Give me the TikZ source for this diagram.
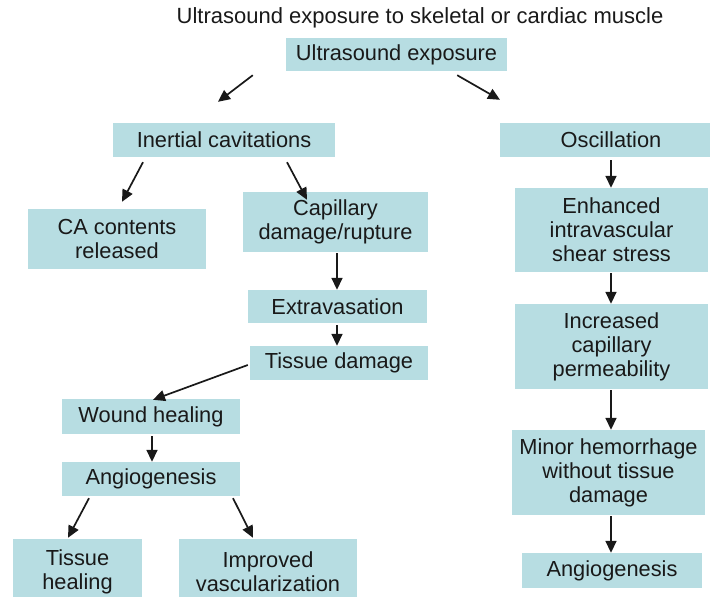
\documentclass[tikz,border=0pt]{standalone}
\usepackage{fontspec}
\setmainfont{Liberation Sans}
\usetikzlibrary{arrows.meta}
\definecolor{boxfill}{RGB}{183,221,226}
\definecolor{ink}{RGB}{25,25,25}
\tikzset{
  box/.style={rectangle, fill=boxfill, draw=none, align=center, inner sep=0pt,
    text=ink, font=\fontsize{21.8}{24}\selectfont},
  arr/.style={draw=ink, line width=1.7pt, -{Triangle[length=12pt,width=11pt]}}
}
\begin{document}
\begin{tikzpicture}[x=1pt,y=-1pt]
\useasboundingbox (0,0) rectangle (710,597);
\fill[white] (0,0) rectangle (710,597);
\clip (0,0) rectangle (710,597);
\node[text=ink, font=\fontsize{22}{24}\selectfont, inner sep=0pt] (title) at (420,18) {Ultrasound exposure to skeletal or cardiac muscle};
\node[box, minimum width=221pt, minimum height=33pt] (ue) at (396.5,54.5) {Ultrasound exposure};
\node[box, minimum width=222pt, minimum height=34pt] (ic) at (224,140) {Inertial cavitations};
\node[box, minimum width=222pt, minimum height=34pt] (osc) at (611,140) {Oscillation};
\node[box, minimum width=193pt, minimum height=84pt] (enh) at (611.5,230) {Enhanced\\intravascular\\shear stress};
\node[box, minimum width=193pt, minimum height=85pt] (inc) at (611.5,346.5) {Increased\\capillary\\permeability};
\node[box, minimum width=193pt, minimum height=85pt] (minor) at (608.5,472.5) {Minor hemorrhage\\without tissue\\damage};
\node[box, minimum width=180pt, minimum height=35pt] (ang2) at (612,570.5) {Angiogenesis};
\node[box, minimum width=178pt, minimum height=60pt] (ca) at (117,239) {CA contents\\released};
\node[box, minimum width=185pt, minimum height=60pt] (cap) at (335.5,222) {Capillary\\damage/rupture};
\node[box, minimum width=179pt, minimum height=33pt] (ext) at (337.5,306.5) {Extravasation};
\node[box, minimum width=178pt, minimum height=34pt] (td) at (339,363) {Tissue damage};
\node[box, minimum width=178pt, minimum height=35pt] (wh) at (151,416.5) {Wound healing};
\node[box, minimum width=178pt, minimum height=34pt] (ang1) at (151,479) {Angiogenesis};
\node[box, minimum width=129pt, minimum height=66pt] (th) at (77.5,572) {Tissue\\healing};
\node[box, minimum width=178pt, minimum height=66pt] (iv) at (268,572) {Improved\\vascularization};
\draw[arr] ([shift={(-33,4)}]ue.south west) -- ([shift={(-6,-21)}]ic.north);
\draw[arr] ([shift={(-50,4)}]ue.south east) -- ([shift={(-111,-23)}]osc.north);
\draw[arr] ([shift={(-81,5)}]ic.south) -- ([shift={(5,-7)}]ca.north);
\draw[arr] ([shift={(63,5)}]ic.south) -- ([shift={(-28.5,8)}]cap.north);
\draw[arr] ([shift={(1.5,1)}]cap.south) -- ([shift={(-0.5,0)}]ext.north);
\draw[arr] ([shift={(-0.5,2)}]ext.south) -- ([shift={(-2,0)}]td.north);
\draw[arr] ([shift={(-2,2)}]td.west) -- ([shift={(2,1)}]wh.north);
\draw[arr] ([shift={(1,2)}]wh.south) -- ([shift={(1,0)}]ang1.north);
\draw[arr] ([shift={(-62,2)}]ang1.south) -- ([shift={(-9.5,-1)}]th.north);
\draw[arr] ([shift={(82,2)}]ang1.south) -- ([shift={(-15,-1)}]iv.north);
\draw[arr] ([shift={(0,3)}]osc.south) -- ([shift={(-0.5,0)}]enh.north);
\draw[arr] ([shift={(-0.5,1)}]enh.south) -- ([shift={(-0.5,0)}]inc.north);
\draw[arr] ([shift={(-0.5,1)}]inc.south) -- ([shift={(2.5,0)}]minor.north);
\draw[arr] ([shift={(2.5,1)}]minor.south) -- ([shift={(-1,0)}]ang2.north);
\end{tikzpicture}
\end{document}
